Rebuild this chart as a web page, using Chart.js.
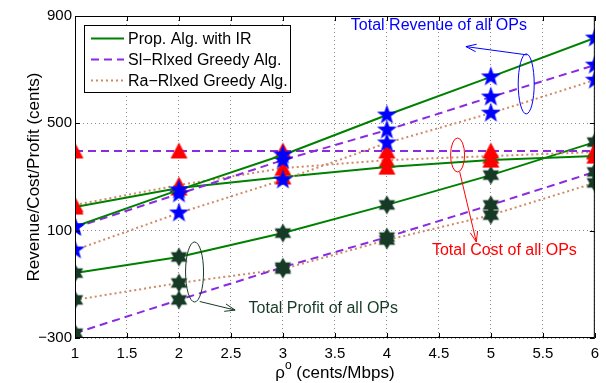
<!DOCTYPE html>
<html>
<head>
<meta charset="utf-8">
<script src="https://cdn.jsdelivr.net/npm/chart.js@4"></script>
<style>
  html, body { margin: 0; padding: 0; background: #fff; }
  #wrap { width: 606px; height: 383px; }
</style>
</head>
<body>
<div id="wrap"><canvas id="myChart" width="606" height="383"></canvas></div>
<script>
// price rho^o (cents/Mbps)
const rho = [1, 2, 3, 4, 5, 6];

// total revenue of all OPs
const revProp = [115, 252, 382, 531, 673, 818];
const revSl   = [112, 237, 363, 475, 598, 717];
const revRa   = [28, 166, 289, 427, 538, 661];

// total cost of all OPs
const costProp = [188, 259, 300, 337, 363, 378];
const costSl   = [397, 397, 397, 397, 397, 397];
const costRa   = [196, 270, 333, 363, 378, 393];

// total profit of all OPs
const profProp = [-58, 2, 91, 196, 307, 430];
const profSl   = [-282, -158, -36, 76, 196, 319];
const profRa   = [-158, -95, -43, 65, 158, 278];

const yTicks = [-300, 100, 500, 900];
const algNames = ['Prop. Alg. with IR', 'Sl\u2212Rlxed Greedy Alg.', 'Ra\u2212Rlxed Greedy Alg.'];

const FONT = '"Liberation Sans", Arial, sans-serif';
const GREEN = '#008000';
const PURPLE = '#8a2be2';
const BROWN = '#d08a68';

function starMarker(points, outer, inner, color) {
  const c = document.createElement('canvas');
  const s = Math.ceil(outer * 2 + 2);
  c.width = s; c.height = s;
  const g = c.getContext('2d');
  g.translate(s / 2, s / 2);
  g.beginPath();
  for (let i = 0; i < points * 2; i++) {
    const r = i % 2 === 0 ? outer : inner;
    const a = -Math.PI / 2 + i * Math.PI / points;
    const px = r * Math.cos(a), py = r * Math.sin(a);
    if (i === 0) g.moveTo(px, py); else g.lineTo(px, py);
  }
  g.closePath();
  g.fillStyle = color;
  g.fill();
  return c;
}

function triMarker(size, color) {
  const c = document.createElement('canvas');
  const s = size + 2;
  c.width = s; c.height = s;
  const g = c.getContext('2d');
  g.beginPath();
  g.moveTo(s / 2, 1);
  g.lineTo(s - 1, s - 2);
  g.lineTo(1, s - 2);
  g.closePath();
  g.fillStyle = color;
  g.fill();
  return c;
}

const pentagram = starMarker(5, 10.5, 4.2, '#0000ff');
const hexagram = starMarker(6, 9.5, 5.5, '#163a26');
const triangle = triMarker(17, '#ff0000');

const styles = [
  { color: GREEN, dash: [], width: 2 },
  { color: PURPLE, dash: [8, 5], width: 2 },
  { color: BROWN, dash: [2, 3], width: 2 }
];

function series(vals, alg, marker) {
  const st = styles[alg];
  return {
    data: rho.map((x, i) => ({ x: x, y: vals[i] })),
    borderColor: st.color,
    borderDash: st.dash,
    borderWidth: st.width,
    pointStyle: marker,
    pointRadius: 9,
    pointHoverRadius: 9,
    fill: false,
    tension: 0
  };
}

const datasets = [
  series(revProp, 0, pentagram), series(revSl, 1, pentagram), series(revRa, 2, pentagram),
  series(costProp, 0, triangle), series(costSl, 1, triangle), series(costRa, 2, triangle),
  series(profProp, 0, hexagram), series(profSl, 1, hexagram), series(profRa, 2, hexagram)
];

function arrow(g, x1, y1, x2, y2) {
  g.beginPath();
  g.moveTo(x1, y1);
  g.lineTo(x2, y2);
  g.stroke();
  const a = Math.atan2(y2 - y1, x2 - x1);
  g.beginPath();
  g.moveTo(x2 - 11 * Math.cos(a - 0.35), y2 - 11 * Math.sin(a - 0.35));
  g.lineTo(x2, y2);
  g.lineTo(x2 - 11 * Math.cos(a + 0.35), y2 - 11 * Math.sin(a + 0.35));
  g.stroke();
}

const decorations = {
  id: 'decorations',
  afterDraw(chart) {
    const g = chart.ctx;
    const xs = chart.scales.x, ys = chart.scales.y;
    const a = chart.chartArea;
    const X = v => xs.getPixelForValue(v), Y = v => ys.getPixelForValue(v);
    g.save();

    // frame with inward ticks
    g.strokeStyle = '#000';
    g.lineWidth = 1;
    g.setLineDash([]);
    g.strokeRect(a.left + 0.5, a.top + 0.5, a.right - a.left - 1, a.bottom - a.top - 1);
    g.beginPath();
    for (let v = 1; v <= 6.001; v += 0.5) {
      const px = Math.round(X(v)) + 0.5;
      g.moveTo(px, a.bottom); g.lineTo(px, a.bottom - 5);
      g.moveTo(px, a.top); g.lineTo(px, a.top + 5);
    }
    yTicks.forEach(v => {
      const py = Math.round(Y(v)) + 0.5;
      g.moveTo(a.left, py); g.lineTo(a.left + 5, py);
      g.moveTo(a.right, py); g.lineTo(a.right - 5, py);
    });
    g.stroke();

    // axis titles
    g.fillStyle = '#000';
    g.font = '17px ' + FONT;
    g.textBaseline = 'alphabetic';
    const rest = ' (cents/Mbps)';
    const w1 = g.measureText('\u03c1').width;
    g.font = '12px ' + FONT;
    const w2 = g.measureText('o').width;
    g.font = '17px ' + FONT;
    const w3 = g.measureText(rest).width;
    let tx = (a.left + a.right) / 2 - (w1 + w2 + w3) / 2;
    g.textAlign = 'left';
    g.fillText('\u03c1', tx, 378);
    g.font = '12px ' + FONT;
    g.fillText('o', tx + w1, 369);
    g.font = '17px ' + FONT;
    g.fillText(rest, tx + w1 + w2, 378);

    g.save();
    g.translate(39, (a.top + a.bottom) / 2);
    g.rotate(-Math.PI / 2);
    g.textAlign = 'center';
    g.fillText('Revenue/Cost/Profit (cents)', 0, 0);
    g.restore();

    // legend
    g.fillStyle = '#fff';
    g.fillRect(84, 25, 206, 67);
    g.strokeStyle = '#000';
    g.lineWidth = 1;
    g.strokeRect(84.5, 25.5, 206, 67);
    g.font = '16px ' + FONT;
    g.textAlign = 'left';
    g.textBaseline = 'middle';
    algNames.forEach((name, i) => {
      const st = styles[i];
      const ly = 38.5 + i * 21;
      g.strokeStyle = st.color;
      g.lineWidth = st.width;
      g.setLineDash(st.dash);
      g.beginPath();
      g.moveTo(91, ly); g.lineTo(124, ly);
      g.stroke();
      g.fillStyle = '#000';
      g.fillText(name, 128, ly + 1);
    });
    g.setLineDash([]);

    // annotations
    g.lineWidth = 1;
    g.font = '16px ' + FONT;
    g.textBaseline = 'middle';

    // revenue
    g.strokeStyle = '#0000ff';
    g.fillStyle = '#0000ff';
    g.beginPath();
    g.ellipse(X(5.34), Y(647), 8, 30, 0, 0, Math.PI * 2);
    g.stroke();
    arrow(g, X(5.35), Y(755), X(4.76), Y(786));
    g.textAlign = 'center';
    g.fillText('Total Revenue of all OPs', X(4.5), Y(866));

    // cost
    g.strokeStyle = '#ff0000';
    g.fillStyle = '#ff0000';
    g.beginPath();
    g.ellipse(X(4.68), Y(382), 7, 17, 0, 0, Math.PI * 2);
    g.stroke();
    arrow(g, X(4.7), Y(319), X(4.86), Y(58));
    g.textAlign = 'center';
    g.fillText('Total Cost of all OPs', X(5.13), Y(24));

    // profit
    g.strokeStyle = '#163a26';
    g.fillStyle = '#163a26';
    g.beginPath();
    g.ellipse(X(2.15), Y(-54), 9, 30, 0, 0, Math.PI * 2);
    g.stroke();
    arrow(g, X(2.2), Y(-164), X(2.54), Y(-196));
    g.textAlign = 'left';
    g.fillText('Total Profit of all OPs', X(2.67), Y(-192));

    g.restore();
  }
};

new Chart(document.getElementById('myChart'), {
  type: 'line',
  data: { datasets: datasets },
  plugins: [decorations],
  options: {
    responsive: false,
    animation: false,
    layout: { padding: { top: 16, right: 2, left: 0, bottom: 0 } },
    plugins: { legend: { display: false }, tooltip: { enabled: false } },
    scales: {
      x: {
        type: 'linear',
        min: 1, max: 6,
        afterFit: s => { s.height = 45; },
        ticks: {
          stepSize: 0.5, color: '#000', font: { family: FONT, size: 15 }, padding: 7, maxRotation: 0,
          callback: v => String(v)
        },
        grid: { color: '#888', drawTicks: false, lineWidth: 1 },
        border: { display: false, dash: [1, 3] }
      },
      y: {
        min: -300, max: 900,
        afterFit: s => { s.width = 75; },
        afterBuildTicks: s => { s.ticks = yTicks.map(v => ({ value: v })); },
        ticks: {
          color: '#000', font: { family: FONT, size: 15 }, padding: 3,
          callback: v => String(v).replace('-', '\u2212')
        },
        grid: { color: '#888', drawTicks: false, lineWidth: 1 },
        border: { display: false, dash: [1, 3] }
      }
    }
  }
});
</script>
</body>
</html>
